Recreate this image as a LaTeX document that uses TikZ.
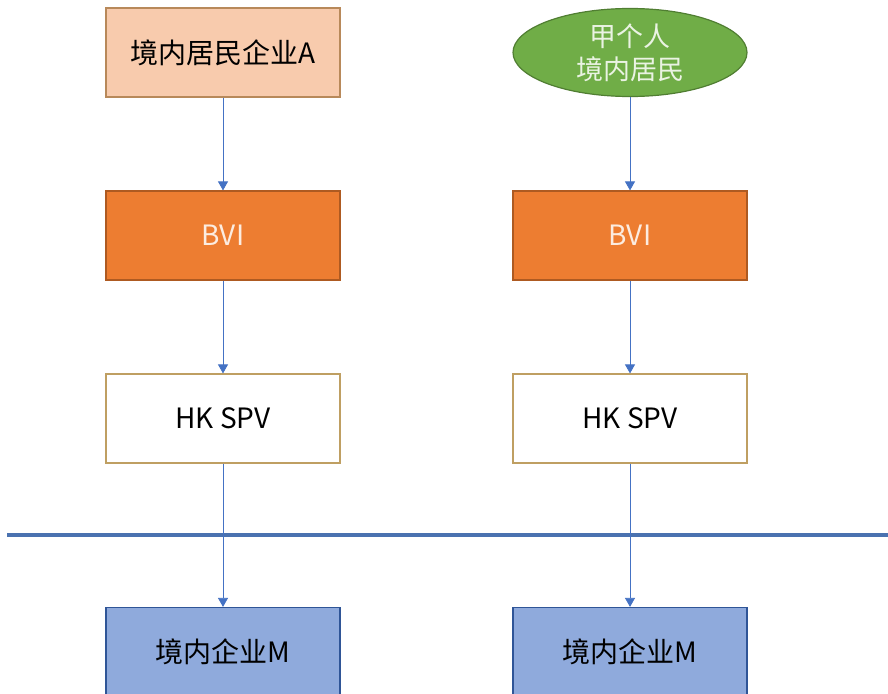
\documentclass[tikz,border=0pt]{standalone}
\usepackage{fontspec}
\setmainfont{Noto Sans CJK SC}
\usepackage{tikz}
\usetikzlibrary{arrows.meta,shapes.geometric}

\definecolor{peach}{HTML}{F8CBAD}
\definecolor{peachline}{HTML}{B8895A}
\definecolor{leaf}{HTML}{70AD47}
\definecolor{leafline}{HTML}{507E32}
\definecolor{bviorange}{HTML}{ED7D31}
\definecolor{bviline}{HTML}{AE5A21}
\definecolor{spvline}{HTML}{BF9F62}
\definecolor{mblue}{HTML}{8FAADC}
\definecolor{mline}{HTML}{2F5597}
\definecolor{arrowblue}{HTML}{4472C4}
\definecolor{border}{HTML}{4A72B0}

\tikzset{
  entity/.style={rectangle, draw, line width=1.2pt, minimum width=234pt,
    minimum height=89pt, font=\fontsize{28}{32}\selectfont},
  owner/.style={entity, fill=peach, draw=peachline},
  person/.style={ellipse, draw=leafline, fill=leaf, line width=1.2pt,
    minimum width=234pt, minimum height=88pt, inner sep=0pt, text=white!85!leaf,
    align=center, font=\fontsize{27}{33}\selectfont},
  bvi/.style={entity, fill=bviorange, draw=bviline, text=white!85!bviorange},
  spv/.style={entity, fill=white, draw=spvline},
  target/.style={entity, fill=mblue, draw=mline},
  hold/.style={-{Triangle[width=10pt,length=9pt]}, color=arrowblue, line width=0.8pt}
}

\begin{document}
\begin{tikzpicture}[node distance=183pt]
        \useasboundingbox (0,0) rectangle (888pt,-693pt);
        \clip (0,0) rectangle (888pt,-693pt);
        \fill[white] (0,0) rectangle (888pt,-693pt);

        % left chain
        \node[owner] (a) at (223pt,-52.5pt) {境内居民企业A};
        \node[bvi] (bviA) [below of = a] {BVI};
        \node[spv] (spvA) [below of = bviA] {HK SPV};
        \node[target] (mA) [below of = spvA, node distance=233.5pt] {境内企业M};

        % right chain
        \node[person] (p) at (630pt,-52.5pt) {甲个人\\境内居民};
        \node[bvi] (bviP) [below of = p] {BVI};
        \node[spv] (spvP) [below of = bviP] {HK SPV};
        \node[target] (mP) [below of = spvP, node distance=233.5pt] {境内企业M};

        % border line
        \coordinate (wL) at (7pt,-535pt);
        \coordinate (wR) at (888pt,-535pt);
        \draw[border, line width=4pt] (wL) -- (wR);

        \draw[hold] (a) -- (bviA);
        \draw[hold] (bviA) -- (spvA);
        \draw[hold] (spvA) -- (mA);
        \draw[hold] (p) -- (bviP);
        \draw[hold] (bviP) -- (spvP);
        \draw[hold] (spvP) -- (mP);
      \end{tikzpicture}
\end{document}
